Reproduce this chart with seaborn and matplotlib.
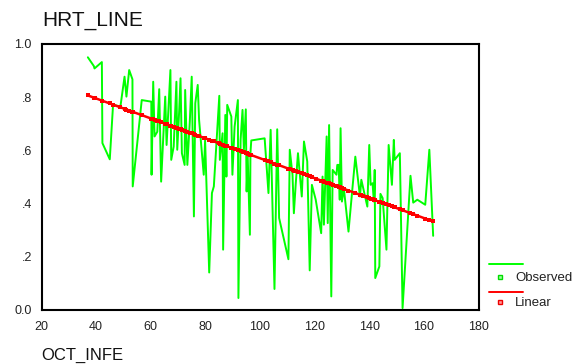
import numpy as np
import pandas as pd
import matplotlib
matplotlib.use("Agg")
import matplotlib.pyplot as plt
import seaborn as sns
from matplotlib.lines import Line2D

# ---- data ----
oct_infe = [36.97, 39.16, 39.41, 42.1, 42.3, 45.0, 46.2, 48.9, 50.4, 51.1, 52.1, 53.3, 53.4,
            56.7, 60.2, 60.3, 60.9, 61.4, 62.4, 63.1, 63.8, 65.3, 65.8, 67.2, 67.5, 68.4,
            69.4, 69.7, 70.4, 70.9, 71.4, 72.4, 72.6, 73.4, 74.3, 75.0, 75.8, 76.3, 77.2,
            77.7, 79.4, 79.9, 81.4, 82.4, 83.1, 85.1, 85.3, 86.3, 86.5, 87.3, 87.7, 88.0,
            89.5, 89.9, 90.7, 91.9, 92.1, 92.9, 93.6, 94.1, 94.8, 95.1, 95.5, 96.3, 96.5,
            96.8, 101.7, 103.1, 103.9, 105.3, 106.3, 107.0, 110.4, 110.9, 111.9, 112.4,
            113.1, 113.9, 115.3, 116.1, 117.3, 118.2, 119.0, 120.4, 122.4, 122.9, 123.4,
            124.4, 124.8, 125.3, 126.1, 126.6, 128.0, 128.3, 128.8, 129.2, 129.5, 130.0,
            130.7, 132.4, 134.9, 136.6, 137.1, 137.8, 139.3, 140.0, 140.5, 141.2, 141.7,
            142.0, 142.2, 143.7, 144.1, 144.9, 146.3, 147.1, 148.3, 149.0, 149.3, 151.2,
            152.2, 155.1, 156.1, 157.6, 160.5, 162.0, 163.4]
hrt_line = [0.950, 0.917, 0.908, 0.932, 0.627, 0.566, 0.771, 0.765, 0.877, 0.802, 0.902, 0.867,
            0.464, 0.789, 0.783, 0.508, 0.858, 0.652, 0.670, 0.830, 0.482, 0.802, 0.620,
            0.902, 0.564, 0.614, 0.858, 0.602, 0.746, 0.871, 0.589, 0.545, 0.827, 0.545,
            0.708, 0.877, 0.351, 0.777, 0.846, 0.714, 0.508, 0.637, 0.140, 0.439, 0.464,
            0.805, 0.564, 0.664, 0.226, 0.733, 0.501, 0.771, 0.727, 0.508, 0.689, 0.789,
            0.044, 0.639, 0.752, 0.602, 0.754, 0.445, 0.576, 0.282, 0.589, 0.637, 0.645,
            0.439, 0.677, 0.078, 0.679, 0.345, 0.190, 0.602, 0.508, 0.363, 0.476, 0.589,
            0.426, 0.633, 0.558, 0.148, 0.470, 0.414, 0.288, 0.501, 0.320, 0.652, 0.326,
            0.695, 0.050, 0.526, 0.508, 0.545, 0.545, 0.414, 0.683, 0.407, 0.457, 0.294,
            0.576, 0.426, 0.489, 0.457, 0.388, 0.620, 0.470, 0.476, 0.407, 0.526, 0.119,
            0.163, 0.436, 0.420, 0.226, 0.620, 0.470, 0.639, 0.564, 0.589, 0.006, 0.504,
            0.403, 0.414, 0.395, 0.602, 0.278]
# linear fit
fit_intercept = 0.945
fit_slope = -0.00375

x_ticks = [20, 40, 60, 80, 100, 120, 140, 160, 180]
y_ticks = [0.0, 0.2, 0.4, 0.6, 0.8, 1.0]
y_tick_labels = ["0.0", ".2", ".4", ".6", ".8", "1.0"]

df = pd.DataFrame({"OCT_INFE": oct_infe, "HRT_LINE": hrt_line})
df["Linear"] = fit_intercept + fit_slope * df["OCT_INFE"]

sns.set_style("white")
plt.rcParams["font.family"] = ["Liberation Sans", "DejaVu Sans"]

fig = plt.figure(figsize=(5.82, 3.64), dpi=100)
W, H = 582, 364
ax = fig.add_axes([41.5 / W, 1 - 309.7 / H, (478.5 - 41.5) / W, (309.7 - 44) / H])

sns.lineplot(data=df, x="OCT_INFE", y="HRT_LINE", ax=ax, color="#00ff00",
             linewidth=1.4, estimator=None, sort=False)
sns.lineplot(data=df, x="OCT_INFE", y="Linear", ax=ax, color="#ff0000",
             linewidth=1.8, estimator=None, sort=False, marker="s",
             markersize=2.2, markeredgewidth=0)

ax.set_xlim(20, 180)
ax.set_ylim(0, 1.0)
ax.set_xticks(x_ticks)
ax.set_xticklabels([str(t) for t in x_ticks])
ax.set_yticks(y_ticks)
ax.set_yticklabels(y_tick_labels)
ax.set_xlabel("")
ax.set_ylabel("")
for s in ax.spines.values():
    s.set_visible(True)
    s.set_color("black")
    s.set_linewidth(1.5)
ax.tick_params(axis="both", direction="out", length=4, width=1.2, color="black",
               labelsize=9, labelcolor="#222222", pad=3)
ax.tick_params(axis="x", pad=4)

fig.text(42 / W, 1 - 21 / H, "HRT_LINE", fontsize=15, va="center", ha="left", color="#111111")
fig.text(41.5 / W, 1 - 355.5 / H, "OCT_INFE", fontsize=12, va="center", ha="left", color="#111111")

# legend (SPSS style: line sample above marker + label)
def fx(p):
    return p / W
def fy(p):
    return 1 - p / H

fig.add_artist(Line2D([fx(489), fx(523)], [fy(264.3), fy(264.3)], color="#00ff00", linewidth=1.4))
fig.add_artist(Line2D([fx(500)], [fy(277)], color="#00ff00", marker="s", markersize=3.2,
                      markeredgecolor="#00dd00", markerfacecolor="#99ff99", markeredgewidth=1,
                      linestyle="none"))
fig.text(fx(515), fy(278), "Observed", fontsize=9.5, va="center", ha="left", color="#222222")
fig.add_artist(Line2D([fx(489), fx(523)], [fy(291.7), fy(291.7)], color="#ff0000", linewidth=1.4))
fig.add_artist(Line2D([fx(500)], [fy(302.3)], color="#ff0000", marker="s", markersize=3.2,
                      markeredgecolor="#ee0000", markerfacecolor="#ff9999", markeredgewidth=1,
                      linestyle="none"))
fig.text(fx(515), fy(303), "Linear", fontsize=9.5, va="center", ha="left", color="#222222")

fig.savefig("out.png", dpi=100, facecolor="white")
